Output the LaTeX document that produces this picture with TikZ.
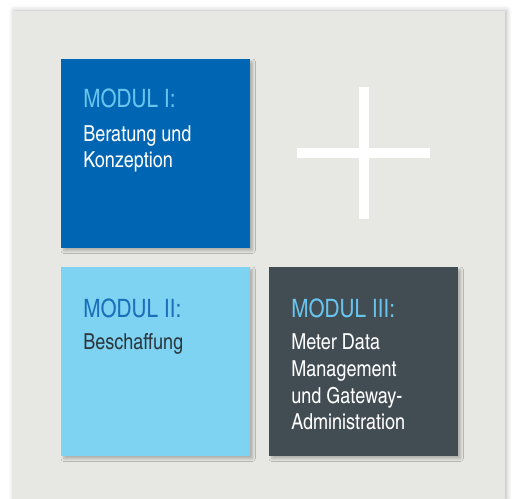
\documentclass[tikz,border=0pt]{standalone}
\usepackage{fontspec}
\setmainfont{texgyreheroscn}[Extension=.otf,UprightFont=*-regular,BoldFont=*-bold]
\usepackage{tikz}
\usetikzlibrary{shadows.blur}
\usepackage{xcolor}

\definecolor{panelgray}{RGB}{231,231,227}
\definecolor{moddark}{RGB}{0,101,178}
\definecolor{modlight}{RGB}{125,211,241}
\definecolor{modslate}{RGB}{66,76,83}
\definecolor{headlight}{RGB}{104,196,236}
\definecolor{headdark}{RGB}{27,111,186}
\definecolor{textdark}{RGB}{45,55,62}

\begin{document}
\begin{tikzpicture}[x=0.75pt,y=0.75pt,yscale=-1,xscale=1,
  modbox/.style={draw=none,blur shadow={shadow xshift=2pt,shadow yshift=-2pt,shadow blur radius=2pt,shadow opacity=25}},
  modhead/.style={anchor=base west,inner sep=0pt,font=\fontsize{19}{21}\selectfont},
  modtext/.style={anchor=base west,inner sep=0pt,align=left,font=\fontsize{16.5}{20}\selectfont}]
\useasboundingbox (0,0) rectangle (512,499);

%Shape: Rectangle [panel]
\fill [panelgray,blur shadow={shadow xshift=1pt,shadow yshift=0pt,shadow blur radius=4pt,shadow opacity=30}] (13,11) rectangle (505,499);

%Shape: Rectangle [modul I]
\fill [moddark,modbox] (61,59) rectangle (250,248);
%Shape: Rectangle [modul II]
\fill [modlight,modbox] (61,267) rectangle (250,456);
%Shape: Rectangle [modul III]
\fill [modslate,modbox] (269,267) rectangle (458,456);

%Straight Lines [plus]
\draw [white,line width=7.5pt]    (297,153) -- (430,153) ;
\draw [white,line width=7.5pt]    (363.7,87) -- (363.7,219.5) ;

% Text Node (base = last line)
\node (headI) [modhead,color=headlight] at (83,108) {MODUL I:};
% Text Node
\node (textI) [modtext,color=white] at (83,168) {Beratung und\\Konzeption};
% Text Node
\node (headII) [modhead,color=headdark] at (83,318) {MODUL II:};
% Text Node
\node (textII) [modtext,color=textdark] at (83,350) {Beschaffung};
% Text Node
\node (headIII) [modhead,color=headlight] at (291,318) {MODUL III:};
% Text Node
\node (textIII) [modtext,color=white] at (291,430) {Meter Data\\Management\\und Gateway-\\Administration};

\end{tikzpicture}
\end{document}
